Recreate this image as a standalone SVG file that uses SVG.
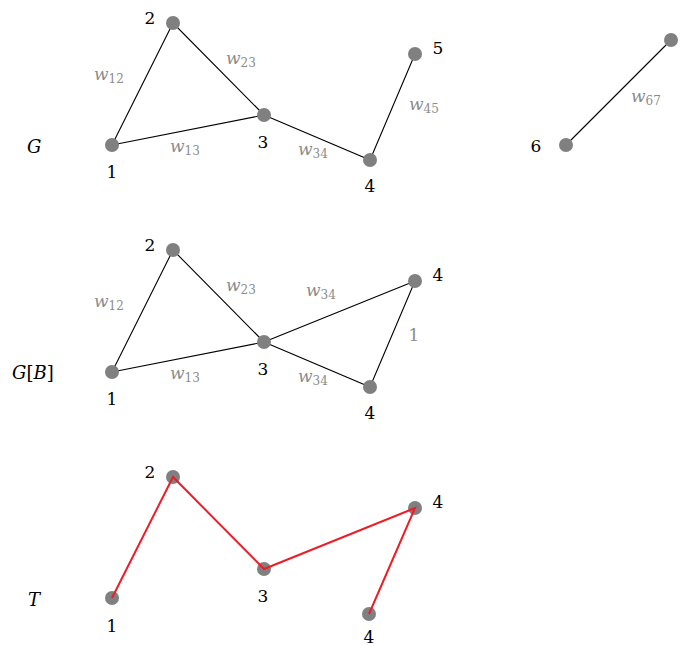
<svg xmlns="http://www.w3.org/2000/svg" width="689" height="646" viewBox="0 0 689 646">
<style>
.n{fill:#808080}
.e{stroke:#000;stroke-width:1.1;fill:none}
.t{stroke:#ee1c25;stroke-width:2;fill:none}
text{font-family:'DejaVu Serif','Liberation Serif',serif;font-size:17px;fill:#000}
.w{fill:#8c8c8c;font-style:italic;font-size:17px}
.w tspan{font-style:normal;font-size:12px}
.g{font-style:italic;font-size:18px}
.c{text-anchor:middle}
</style>
<rect width="689" height="646" fill="#fff"/>
<g id="connectors">
<path class="e" d="M112,145L173,23L264,115L112,145M264,115L370,160L415,54M566,145L671,40"/>
<path class="e" d="M112,372L173,250L264,342L112,372M264,342L370,387L415,281L264,342"/>
</g>
<g id="G-graph">
<text class="g" x="27" y="153">G</text>
<g id="g1"><circle class="n" cx="112" cy="145" r="7"/><text class="c" x="112" y="178">1</text></g>
<g id="g2"><circle class="n" cx="173" cy="23" r="7"/><text class="c" x="150" y="24">2</text></g>
<g id="g3"><circle class="n" cx="264" cy="115" r="7"/><text class="c" x="263" y="148">3</text></g>
<g id="g4"><circle class="n" cx="370" cy="160" r="7"/><text class="c" x="370" y="192">4</text></g>
<g id="g5"><circle class="n" cx="415" cy="54" r="7"/><text class="c" x="438" y="54">5</text></g>
<g id="g6"><circle class="n" cx="566" cy="145" r="7"/><text class="c" x="536" y="152">6</text></g>
<g id="g7"><circle class="n" cx="671" cy="40" r="7"/></g>
<text class="w" x="94" y="80">w<tspan dy="3">12</tspan></text>
<text class="w" x="226" y="64">w<tspan dy="3">23</tspan></text>
<text class="w" x="170" y="152">w<tspan dy="3">13</tspan></text>
<text class="w" x="298" y="155">w<tspan dy="3">34</tspan></text>
<text class="w" x="409" y="110">w<tspan dy="3">45</tspan></text>
<text class="w" x="631" y="102">w<tspan dy="3">67</tspan></text>
</g>
<g id="GB-graph">
<text class="g" x="12" y="379">G<tspan font-style="normal">[</tspan>B<tspan font-style="normal">]</tspan></text>
<g id="b1"><circle class="n" cx="112" cy="372" r="7"/><text class="c" x="112" y="405">1</text></g>
<g id="b2"><circle class="n" cx="173" cy="250" r="7"/><text class="c" x="150" y="251">2</text></g>
<g id="b3"><circle class="n" cx="264" cy="342" r="7"/><text class="c" x="263" y="375">3</text></g>
<g id="b4"><circle class="n" cx="370" cy="387" r="7"/><text class="c" x="370" y="419">4</text></g>
<g id="b4u"><circle class="n" cx="415" cy="281" r="7"/><text class="c" x="438" y="281">4</text></g>
<text class="w" x="94" y="307">w<tspan dy="3">12</tspan></text>
<text class="w" x="226" y="291">w<tspan dy="3">23</tspan></text>
<text class="w" x="170" y="379">w<tspan dy="3">13</tspan></text>
<text class="w" x="306" y="296">w<tspan dy="3">34</tspan></text>
<text class="w" x="298" y="382">w<tspan dy="3">34</tspan></text>
<text class="w c" x="414" y="341" style="font-style:normal">1</text>
</g>
<g id="T-graph">
<text class="g" x="28" y="606">T</text>
<g id="t1"><circle class="n" cx="112" cy="598" r="7"/><text class="c" x="112" y="632">1</text></g>
<g id="t2"><circle class="n" cx="173" cy="477" r="7"/><text class="c" x="150" y="478">2</text></g>
<g id="t3"><circle class="n" cx="264" cy="569" r="7"/><text class="c" x="263" y="602">3</text></g>
<g id="t4"><circle class="n" cx="369" cy="614" r="7"/><text class="c" x="369" y="643">4</text></g>
<g id="t4u"><circle class="n" cx="415" cy="508" r="7"/><text class="c" x="438" y="508">4</text></g>
<path class="t" d="M112,598L173,477L264,569L415,508L369,614"/>
</g>
</svg>
